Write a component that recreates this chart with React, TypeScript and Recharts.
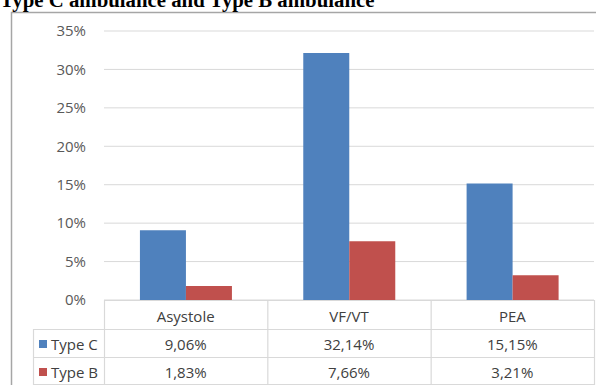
import React from 'react';
import { BarChart, Bar, XAxis, YAxis, CartesianGrid } from 'recharts';

const title = 'Type C ambulance and Type B ambulance';
const categories = ['Asystole', 'VF/VT', 'PEA'];
const seriesNames = ['Type C', 'Type B'];
const typeC = [9.06, 32.14, 15.15];
const typeB = [1.83, 7.66, 3.21];
const yTicks = [0, 5, 10, 15, 20, 25, 30, 35];
const seriesColors = ['#4f81bd', '#c0504d'];

const data = categories.map((c, i) => ({ category: c, typeC: typeC[i], typeB: typeB[i] }));
const seriesValues = [typeC, typeB];

const W = 596;
const H = 385;
const PL = 104;
const PR = 594;
const PT = 31;
const PB = 300;
const HEADER_B = 329;
const ROW1_B = 357;
const ROW2_B = 385;
const LEG_L = 33;
const FONT = '"Open Sans", sans-serif';
const GRID = '#d9d9d9';

const fmt = (v: number) => v.toFixed(2).replace('.', ',') + '%';

export default function App() {
  const colW = (PR - PL) / categories.length;
  const rowTops = [HEADER_B, ROW1_B];
  const rowBottoms = [ROW1_B, ROW2_B];
  return (
    <div style={{ position: 'absolute', left: 0, top: 0, width: W, height: H, overflow: 'hidden', background: '#fff' }}>
      <svg width={W} height={H} style={{ position: 'absolute', left: 0, top: 0 }}>
        <rect x={11.5} y={12.5} width={700} height={500} fill="none" stroke="#a6a6a6" strokeWidth={1.5} />
        <text x={0} y={7} fontFamily='"Liberation Serif", serif' fontWeight="bold" fontSize={20.8} fill="#000">
          {title}
        </text>
      </svg>
      <div style={{ position: 'absolute', left: 0, top: 0 }}>
        <BarChart
          width={W}
          height={H}
          data={data}
          margin={{ top: PT, right: W - PR, bottom: H - PB, left: 0 }}
          barCategoryGap="22%"
          barGap={0}
        >
          <CartesianGrid vertical={false} stroke={GRID} />
          <XAxis dataKey="category" hide />
          <YAxis
            width={PL}
            domain={[0, 35]}
            ticks={yTicks}
            tickFormatter={(v: number) => `${v}%`}
            tickLine={false}
            axisLine={false}
            tickSize={0}
            tickMargin={18}
            tick={{ fill: '#595959', fontSize: 15, fontFamily: FONT }}
          />
          <Bar dataKey="typeC" name={seriesNames[0]} fill={seriesColors[0]} isAnimationActive={false} />
          <Bar dataKey="typeB" name={seriesNames[1]} fill={seriesColors[1]} isAnimationActive={false} />
        </BarChart>
      </div>
      <svg width={W} height={H} style={{ position: 'absolute', left: 0, top: 0, pointerEvents: 'none' }}>
        <g stroke={GRID} strokeWidth={1.2} fill="none">
          <line x1={PL} y1={PB + 0.5} x2={PR} y2={PB + 0.5} />
          <line x1={LEG_L} y1={HEADER_B + 0.5} x2={PR} y2={HEADER_B + 0.5} />
          <line x1={LEG_L} y1={ROW1_B + 0.5} x2={PR} y2={ROW1_B + 0.5} />
          <line x1={LEG_L} y1={ROW2_B - 0.5} x2={PR} y2={ROW2_B - 0.5} />
          <line x1={LEG_L + 0.5} y1={HEADER_B} x2={LEG_L + 0.5} y2={ROW2_B} />
          {categories.map((c, i) => (
            <line key={c} x1={PL + colW * i + 0.5} y1={PB} x2={PL + colW * i + 0.5} y2={ROW2_B} />
          ))}
          <line x1={PR + 0.5} y1={PB} x2={PR + 0.5} y2={ROW2_B} />
        </g>
        <g fontFamily={FONT} fontSize={15} fill="#404040" textAnchor="middle">
          {categories.map((c, i) => (
            <text key={c} x={PL + colW * (i + 0.5)} y={(PB + HEADER_B) / 2 + 1} dominantBaseline="central">
              {c}
            </text>
          ))}
          {seriesValues.map((vals, r) =>
            vals.map((v, i) => (
              <text
                key={`${r}-${i}`}
                x={PL + colW * (i + 0.5)}
                y={(rowTops[r] + rowBottoms[r]) / 2 + 1}
                dominantBaseline="central"
              >
                {fmt(v)}
              </text>
            ))
          )}
        </g>
        {seriesNames.map((n, r) => (
          <g key={n}>
            <rect x={39} y={(rowTops[r] + rowBottoms[r]) / 2 - 3} width={8} height={8} fill={seriesColors[r]} />
            <text
              x={51}
              y={(rowTops[r] + rowBottoms[r]) / 2 + 1}
              dominantBaseline="central"
              fontFamily={FONT}
              fontSize={15}
              fill="#404040"
            >
              {n}
            </text>
          </g>
        ))}
      </svg>
    </div>
  );
}
